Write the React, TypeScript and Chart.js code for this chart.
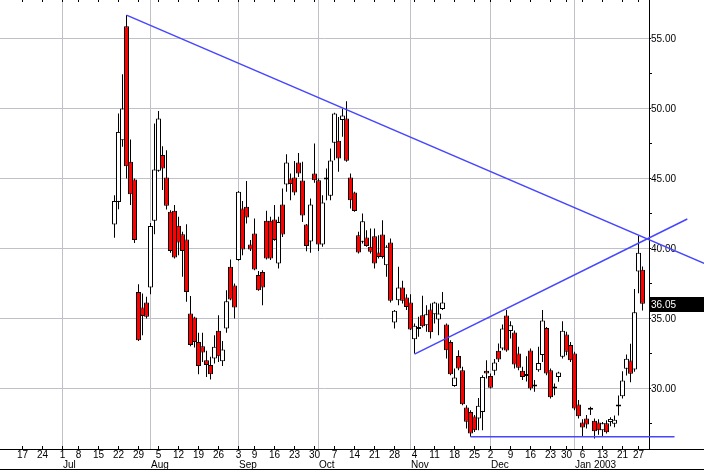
import React, { useEffect, useRef } from 'react';
import { Chart, registerables } from 'chart.js';

Chart.register(...registerables);

// Trading-day number of the first candle (day 0 = Mon 1 Jul 2002)
const FIRST_DAY = 13;

const opens = [
  41.71, 43.33, 47.74, 55.88, 46.19, 44.93, 36.90, 35.79, 36.14, 37.21,
  41.98, 45.55, 46.67, 45.07, 42.62, 42.69, 41.62, 41.02, 40.64, 35.36,
  35.07, 33.33, 33.02, 32.02, 31.67, 32.14, 34.12, 31.95, 34.29, 38.69,
  37.36, 39.17, 42.86, 42.98, 40.29, 41.07, 38.10, 38.33, 41.98, 41.98,
  42.07, 38.93, 43.14, 44.57, 45.00, 45.07, 46.14, 44.86, 41.71, 40.50,
  45.36, 44.88, 40.29, 45.07, 43.76, 47.55, 47.69, 49.17, 49.29, 45.07,
  44.00, 40.95, 40.48, 40.79, 40.12, 40.88, 39.71, 41.00, 38.81, 40.43,
  34.71, 36.31, 37.21, 36.50, 36.14, 33.52, 34.25, 35.24, 34.52, 35.64,
  35.31, 34.93, 35.67, 34.57, 33.33, 30.17, 32.33, 31.31, 28.64, 28.33,
  28.00, 27.86, 28.33, 31.26, 30.90, 31.26, 32.69, 32.86, 35.21, 34.10,
  34.00, 32.50, 31.26, 31.00, 32.72, 30.29, 31.31, 32.40, 34.33, 31.31,
  30.07, 30.83, 32.26, 33.86, 33.10, 32.50, 28.86, 27.57, 27.86, 28.52,
  27.69, 27.57, 27.02, 27.52, 27.60, 27.48, 28.84, 29.45, 31.41, 32.00,
  31.36, 38.35, 38.48,
];
const highs = [
  43.81, 49.64, 52.45, 56.67, 47.79, 45.00, 37.45, 36.79, 36.55, 41.83,
  48.93, 49.83, 47.31, 47.02, 42.74, 43.10, 42.26, 41.19, 41.74, 36.60,
  35.12, 33.98, 33.98, 32.69, 32.26, 33.81, 35.24, 33.40, 37.02, 39.21,
  37.50, 44.10, 43.40, 44.83, 40.60, 42.14, 38.40, 38.45, 42.69, 42.26,
  43.10, 42.26, 44.29, 46.74, 45.36, 46.25, 46.83, 46.19, 41.75, 43.57,
  47.50, 45.00, 43.80, 45.71, 47.15, 49.70, 49.40, 50.00, 50.52, 45.36,
  44.05, 41.19, 42.50, 41.31, 41.43, 41.43, 40.95, 42.02, 40.24, 40.71,
  35.60, 38.69, 37.69, 36.74, 36.74, 34.64, 35.12, 36.62, 35.95, 36.07,
  36.20, 36.07, 36.90, 34.64, 33.45, 31.43, 32.74, 31.55, 28.81, 28.45,
  28.10, 29.33, 30.95, 32.02, 31.07, 32.10, 33.21, 34.57, 35.60, 34.81,
  34.14, 32.98, 31.55, 32.30, 32.86, 30.60, 32.98, 35.60, 34.40, 31.43,
  30.36, 31.20, 34.81, 34.05, 33.33, 32.62, 29.17, 27.81, 28.10, 28.69,
  27.86, 27.81, 27.60, 27.74, 27.95, 28.07, 29.50, 31.24, 32.43, 33.19,
  37.10, 40.90, 38.71,
];
const lows = [
  40.76, 42.81, 47.26, 45.00, 43.10, 40.40, 33.40, 33.81, 35.00, 36.74,
  41.02, 45.48, 44.17, 42.79, 39.69, 39.29, 39.52, 37.98, 36.19, 33.02,
  32.93, 31.02, 31.90, 30.83, 30.64, 31.79, 31.90, 31.60, 33.98, 36.31,
  35.00, 39.12, 39.52, 41.79, 39.83, 38.45, 36.98, 35.95, 39.21, 39.17,
  40.55, 38.57, 40.83, 44.05, 43.45, 43.80, 45.10, 41.90, 39.80, 39.69,
  44.70, 39.83, 40.12, 43.45, 43.45, 46.30, 45.48, 47.98, 46.19, 42.86,
  42.62, 39.64, 40.36, 40.12, 39.64, 38.57, 39.29, 39.29, 37.98, 36.14,
  34.29, 35.95, 36.07, 35.60, 34.17, 32.50, 33.69, 34.36, 34.05, 33.57,
  34.64, 33.81, 35.60, 32.14, 30.95, 30.12, 31.31, 28.81, 27.14, 26.55,
  26.90, 27.02, 27.02, 30.71, 30.00, 30.95, 31.90, 32.74, 32.62, 33.57,
  31.43, 31.31, 30.60, 30.50, 29.88, 29.76, 31.19, 31.90, 30.95, 29.29,
  29.52, 30.48, 32.14, 32.38, 31.90, 28.45, 27.86, 26.55, 27.14, 28.10,
  26.43, 26.70, 26.60, 26.78, 27.30, 27.24, 28.07, 29.29, 30.93, 30.45,
  31.20, 36.80, 35.57,
];
const closes = [
  43.40, 48.33, 50.00, 45.88, 43.88, 40.60, 33.45, 35.17, 35.12, 41.60,
  45.64, 49.29, 45.71, 43.05, 39.83, 39.36, 40.43, 39.83, 36.90, 33.10,
  33.33, 31.60, 32.57, 31.67, 31.02, 32.98, 32.31, 32.79, 36.24, 36.36,
  35.79, 44.05, 39.93, 42.21, 39.93, 38.50, 37.02, 37.21, 39.29, 39.29,
  40.60, 41.90, 41.00, 46.14, 44.60, 44.00, 45.36, 42.36, 40.17, 43.14,
  44.88, 40.29, 43.29, 44.93, 46.28, 49.64, 46.43, 49.50, 46.26, 43.45,
  42.67, 39.71, 41.95, 40.17, 39.76, 38.93, 39.40, 39.40, 40.12, 36.26,
  35.55, 37.21, 36.26, 35.83, 34.21, 34.48, 34.35, 34.45, 35.31, 34.02,
  36.14, 35.36, 36.14, 32.74, 31.02, 30.79, 31.43, 28.88, 27.62, 26.79,
  27.02, 28.76, 30.83, 31.07, 30.05, 31.86, 32.07, 34.29, 32.71, 34.52,
  31.71, 31.48, 30.83, 30.90, 30.00, 30.14, 31.83, 34.85, 31.07, 29.38,
  30.00, 31.14, 34.12, 32.62, 32.02, 28.57, 28.02, 27.21, 27.43, 28.48,
  26.95, 27.02, 27.52, 26.88, 27.83, 27.76, 28.71, 30.57, 32.12, 31.05,
  35.45, 39.69, 36.05,
];

// Week ticks (trading-day numbers) and their day-of-month labels
const weekTickDays = [-10, -5, 0, 4, 9, 14, 19, 24, 29, 34, 39, 44, 48, 53, 58, 63, 68, 73, 78, 83, 88, 93, 98, 103, 107, 112, 117, 122, 126, 130, 135, 140, 144];
const weekTickLabels = ['17', '24', '1', '8', '15', '22', '29', '5', '12', '19', '26', '3', '9', '16', '23', '30', '7', '14', '21', '28', '4', '11', '18', '25', '2', '9', '16', '23', '30', '6', '13', '21', '27'];
const monthStartDays = [0, 22, 44, 64, 87, 107, 128];
const monthLabels = ['Jul', 'Aug', 'Sep', 'Oct', 'Nov', 'Dec', 'Jan 2003'];
const priceGridValues = [30, 35, 40, 45, 50, 55];
const priceTickLabels = ['30.00', '35.00', '40.00', '45.00', '50.00', '55.00'];
const minorPriceTicks = [27.5, 32.5, 37.5, 42.5, 47.5, 52.5];
const lastPriceLabel = '36.05';
const lastPrice = 36.05;

// Trend lines (trading day, price)
const resistanceDays = [16, 160.4];
const resistancePrices = [56.67, 38.94];
const supportDays = [88, 156.2];
const supportPrices = [32.46, 42.11];
const floorDays = [102, 153];
const floorPrices = [26.56, 26.56];

const X_MIN = -15.625;
const X_MAX = 146.625;
const Y_MAX = 57.75;
const Y_MIN = 57.75 - 449 / 14;

const FONT = '10px "Liberation Sans", Arial, sans-serif';
const GRID = '#c0c0c8';

const framePlugin = {
  id: 'frame',
  beforeDatasetsDraw(chart: any) {
    const { ctx, chartArea, scales } = chart;
    const xs = scales.x;
    const ys = scales.y;
    const W = chart.width;
    const right = chartArea.right;
    const bottom = chartArea.bottom;
    ctx.save();
    ctx.lineWidth = 1;
    // horizontal gridlines
    ctx.strokeStyle = GRID;
    priceGridValues.forEach((v) => {
      const y = Math.floor(ys.getPixelForValue(v)) + 0.5;
      ctx.beginPath();
      ctx.moveTo(0, y);
      ctx.lineTo(right, y);
      ctx.stroke();
    });
    // month gridlines
    monthStartDays.forEach((d) => {
      const x = Math.floor(xs.getPixelForValue(d)) + 0.5;
      ctx.beginPath();
      ctx.moveTo(x, 0);
      ctx.lineTo(x, bottom);
      ctx.stroke();
    });
    // axes
    ctx.strokeStyle = '#000';
    ctx.beginPath();
    ctx.moveTo(right + 0.5, 0);
    ctx.lineTo(right + 0.5, bottom + 0.5);
    ctx.moveTo(0, bottom + 0.5);
    ctx.lineTo(W, bottom + 0.5);
    ctx.moveTo(0, 469.5);
    ctx.lineTo(W, 469.5);
    ctx.stroke();
    // week ticks (bottom and top)
    ctx.beginPath();
    weekTickDays.forEach((d) => {
      const x = Math.floor(xs.getPixelForValue(d)) + 0.5;
      ctx.moveTo(x, bottom - 3);
      ctx.lineTo(x, bottom);
      ctx.moveTo(x, 0);
      ctx.lineTo(x, 2);
    });
    // minor price ticks
    minorPriceTicks.forEach((v) => {
      const y = Math.floor(ys.getPixelForValue(v)) + 0.5;
      ctx.moveTo(right, y);
      ctx.lineTo(right + 3, y);
    });
    priceGridValues.forEach((v) => {
      const y = Math.floor(ys.getPixelForValue(v)) + 0.5;
      ctx.moveTo(right, y);
      ctx.lineTo(right + 2, y);
    });
    ctx.stroke();
    // labels
    ctx.fillStyle = '#000';
    ctx.font = FONT;
    ctx.textBaseline = 'middle';
    ctx.textAlign = 'center';
    weekTickDays.forEach((d, i) => {
      ctx.fillText(weekTickLabels[i], xs.getPixelForValue(d), 455.5);
    });
    ctx.textAlign = 'left';
    monthStartDays.forEach((d, i) => {
      ctx.fillText(monthLabels[i], Math.floor(xs.getPixelForValue(d)) + 1, 465);
    });
    priceGridValues.forEach((v, i) => {
      ctx.fillText(priceTickLabels[i], right + 2, Math.floor(ys.getPixelForValue(v)) + 1);
    });
    // last price box
    const py = ys.getPixelForValue(lastPrice);
    ctx.fillStyle = '#000';
    ctx.fillRect(right + 1, Math.round(py - 7), W - right - 1, 15);
    ctx.fillStyle = '#fff';
    ctx.fillText(lastPriceLabel, right + 2, Math.round(py - 7) + 8);
    ctx.restore();
  },
};

export default function App() {
  const ref = useRef<HTMLCanvasElement>(null);
  useEffect(() => {
    const days = opens.map((_, i) => FIRST_DAY + i);
    const wickData = days.map((d, i) => ({ x: d, y: [lows[i], highs[i]] }));
    const bodyData = days.map((d, i) => ({
      x: d,
      y: [Math.min(opens[i], closes[i]), Math.max(opens[i], closes[i])],
    }));
    const bodyColors = days.map((_, i) => (closes[i] >= opens[i] ? '#ffffff' : '#ff0000'));
    const lineDs = (xsArr: number[], ysArr: number[]) => ({
      type: 'line' as const,
      data: xsArr.map((x, i) => ({ x, y: ysArr[i] })),
      borderColor: '#4646ff',
      borderWidth: 1.5,
      pointRadius: 0,
      fill: false,
      clip: false as any,
      tension: 0,
    });
    const chart = new Chart(ref.current as HTMLCanvasElement, {
      type: 'bar',
      data: {
        datasets: [
          lineDs(resistanceDays, resistancePrices),
          lineDs(supportDays, supportPrices),
          lineDs(floorDays, floorPrices),
          {
            type: 'bar',
            data: bodyData as any,
            backgroundColor: bodyColors,
            borderColor: '#000',
            borderWidth: 1,
            borderSkipped: false,
            barThickness: 5,
            grouped: false,
            minBarLength: 2,
            inflateAmount: 0,
          } as any,
          {
            type: 'bar',
            data: wickData as any,
            backgroundColor: '#000',
            borderWidth: 0,
            barThickness: 1,
            grouped: false,
            inflateAmount: 0,
          } as any,
        ],
      },
      options: {
        responsive: false,
        animation: false,
        events: [],
        layout: { padding: { left: 0, top: 0, right: 55, bottom: 22 } },
        plugins: { legend: { display: false }, tooltip: { enabled: false } },
        scales: {
          x: { type: 'linear', min: X_MIN, max: X_MAX, display: false, offset: false, grid: { offset: false } },
          y: { type: 'linear', min: Y_MIN, max: Y_MAX, display: false, beginAtZero: false },
        },
      },
      plugins: [framePlugin],
    });
    return () => chart.destroy();
  }, []);
  return (
    <div style={{ position: 'fixed', left: 0, top: 0, width: 704, height: 471, background: '#fff' }}>
      <canvas ref={ref} width={704} height={471} style={{ display: 'block', width: 704, height: 471 }} />
    </div>
  );
}
